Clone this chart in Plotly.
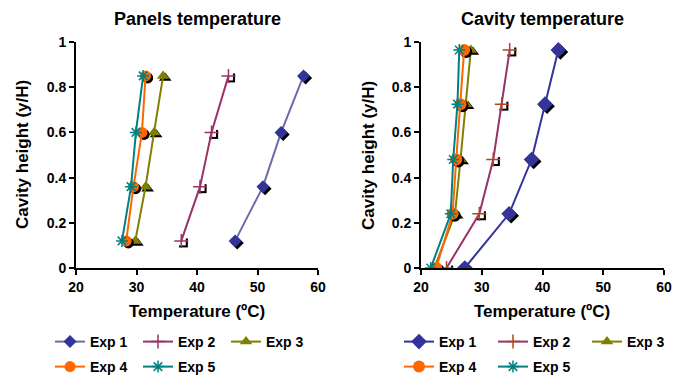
import plotly.graph_objects as go

# ---------------- data ----------------
series_names = ["Exp 1", "Exp 2", "Exp 3", "Exp 4", "Exp 5"]

panel_y = [0.12, 0.36, 0.60, 0.85]
panel_x = {
    "Exp 1": [46.3, 50.9, 53.9, 57.6],
    "Exp 2": [37.4, 40.5, 42.4, 45.2],
    "Exp 3": [29.8, 31.5, 32.9, 34.4],
    "Exp 4": [28.3, 29.5, 30.9, 31.5],
    "Exp 5": [27.6, 29.1, 29.9, 31.1],
}

cavity_y = [0.0, 0.24, 0.48, 0.725, 0.965]
cavity_x = {
    "Exp 1": [27.2, 34.5, 38.2, 40.4, 42.6],
    "Exp 2": [24.2, 29.6, 31.9, 33.3, 34.6],
    "Exp 3": [22.2, 25.6, 26.5, 27.4, 28.2],
    "Exp 4": [22.5, 25.2, 25.8, 26.5, 27.1],
    "Exp 5": [21.6, 24.9, 25.3, 26.0, 26.3],
}

x_ticks = [20, 30, 40, 50, 60]
y_ticks = [0, 0.2, 0.4, 0.6, 0.8, 1]
y_tick_text = ["0", "0.2", "0.4", "0.6", "0.8", "1"]

# ---------------- styles ----------------
left_style = {
    "Exp 1": dict(line="#6b6baa", mcolor="#333399", symbol="diamond", size=10, shadow="black"),
    "Exp 2": dict(line="#993366", mcolor="#993366", symbol="cross-thin-open", size=10, shadow="box"),
    "Exp 3": dict(line="#808000", mcolor="#808000", symbol="triangle-up", size=11, shadow="black"),
    "Exp 4": dict(line="#ff6600", mcolor="#ff6600", symbol="circle", size=11, shadow="black"),
    "Exp 5": dict(line="#008080", mcolor="#008080", symbol="asterisk-open", size=10, shadow=None),
}
right_style = {
    "Exp 1": dict(line="#333399", mcolor="#333399", symbol="diamond", size=12, shadow="black"),
    "Exp 2": dict(line="#993366", mcolor="#b0441a", symbol="cross-thin-open", size=10, shadow="box"),
    "Exp 3": dict(line="#808000", mcolor="#808000", symbol="triangle-up", size=11, shadow="black"),
    "Exp 4": dict(line="#ff6600", mcolor="#ff6600", symbol="circle", size=12, shadow="black"),
    "Exp 5": dict(line="#008080", mcolor="#008080", symbol="asterisk-open", size=10, shadow=None),
}

FONT = "Liberation Sans, Arial, sans-serif"
fig = go.Figure()

DX = 0.35   # shadow offset in x data units (~2px)
DY = 0.009  # shadow offset in y data units (~2px)


def add_panel(xdata, ydata, styles, xa, ya, legends):
    for i, name in enumerate(series_names):
        st = styles[name]
        xs = xdata[name]
        sx = [v + DX for v in xs]
        sy = [v - DY for v in ydata]
        if st["shadow"] == "black":
            fig.add_trace(go.Scatter(x=sx, y=sy, mode="markers", xaxis=xa, yaxis=ya,
                                     marker=dict(symbol=st["symbol"], size=st["size"], color="black"),
                                     showlegend=False, hoverinfo="skip"))
        elif st["shadow"] == "box":
            fig.add_trace(go.Scatter(x=sx, y=sy, mode="markers", xaxis=xa, yaxis=ya,
                                     marker=dict(symbol="square", size=st["size"] - 1, color="black"),
                                     showlegend=False, hoverinfo="skip"))
            fig.add_trace(go.Scatter(x=xs, y=ydata, mode="markers", xaxis=xa, yaxis=ya,
                                     marker=dict(symbol="square", size=st["size"] - 1, color="white"),
                                     showlegend=False, hoverinfo="skip"))
        mline = dict(width=1.5, color=st["mcolor"]) if "open" in st["symbol"] else dict(width=0)
        fig.add_trace(go.Scatter(
            x=xs, y=ydata, mode="lines+markers", name=name, xaxis=xa, yaxis=ya,
            line=dict(color=st["line"], width=2),
            marker=dict(symbol=st["symbol"], size=st["size"], color=st["mcolor"], line=mline),
            legend=legends[0] if i < 3 else legends[1],
        ))


add_panel(panel_x, panel_y, left_style, "x", "y", ["legend", "legend2"])
add_panel(cavity_x, cavity_y, right_style, "x2", "y2", ["legend3", "legend4"])

tickfont = dict(family=FONT, size=14, color="black", weight="bold")
axis_common = dict(
    range=[20, 60], tickvals=x_ticks, showgrid=False, zeroline=False, automargin=False,
    showline=True, linecolor="black", linewidth=2, ticks="outside", ticklen=5,
    tickwidth=2, tickcolor="black", tickfont=tickfont,
)
yaxis_common = dict(
    range=[0, 1], tickvals=y_ticks, ticktext=y_tick_text,
    showgrid=False, zeroline=False, automargin=False,
    showline=True, linecolor="black", linewidth=2, ticks="outside", ticklen=5,
    tickwidth=2, tickcolor="black", tickfont=tickfont,
)

W, H = 673, 376
ytop, ybot = 42, 268
ydom = [1 - ybot / H, 1 - ytop / H]

fig.update_layout(
    width=W, height=H, margin=dict(l=0, r=0, t=0, b=0, autoexpand=False),
    paper_bgcolor="white", plot_bgcolor="white",
    font=dict(family=FONT, color="black"),
    xaxis=dict(domain=[76 / W, 318 / W], anchor="y", **axis_common),
    yaxis=dict(domain=ydom, anchor="x", **yaxis_common),
    xaxis2=dict(domain=[421 / W, 664 / W], anchor="y2", **axis_common),
    yaxis2=dict(domain=ydom, anchor="x2", **yaxis_common),
)

leg_font = dict(family=FONT, size=14, color="black", weight="bold")
def leg(x, y, ew):
    return dict(orientation="h", x=x, y=y, xanchor="left", yanchor="middle",
                xref="paper", yref="paper", entrywidth=ew, entrywidthmode="pixels",
                font=leg_font, bgcolor="rgba(0,0,0,0)", tracegroupgap=0, itemwidth=30)

fig.update_layout(
    legend=leg(50 / W, 1 - 342 / H, 43),
    legend2=leg(50 / W, 1 - 367 / H, 43),
    legend3=leg(399 / W, 1 - 342 / H, 49),
    legend4=leg(399 / W, 1 - 367 / H, 49),
)

annots = [
    dict(text="Panels temperature", x=197 / W, y=1 - 19 / H, font=dict(size=18)),
    dict(text="Cavity temperature", x=542 / W, y=1 - 19 / H, font=dict(size=18)),
    dict(text="Temperature (ºC)", x=197 / W, y=1 - 311 / H, font=dict(size=17)),
    dict(text="Temperature (ºC)", x=542 / W, y=1 - 311 / H, font=dict(size=17)),
    dict(text="Cavity height (y/H)", x=22 / W, y=1 - 155 / H, font=dict(size=17), textangle=-90),
    dict(text="Cavity height (y/H)", x=368 / W, y=1 - 155 / H, font=dict(size=17), textangle=-90),
]
for a in annots:
    a["font"].update(family=FONT, color="black", weight="bold")
    fig.add_annotation(xref="paper", yref="paper", showarrow=False,
                       xanchor="center", yanchor="middle", **a)

fig.write_html("out.html")
